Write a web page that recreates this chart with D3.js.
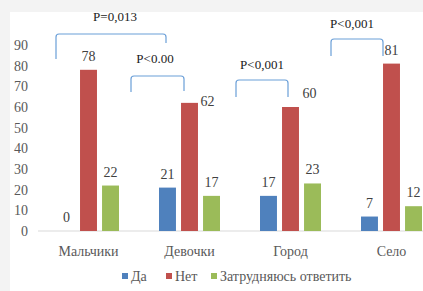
<!DOCTYPE html>
<html>
<head>
<meta charset="utf-8">
<script src="https://cdn.jsdelivr.net/npm/d3@7"></script>
<style>
  body { margin: 0; background: #f3f3f3; }
  svg { display: block; }
</style>
</head>
<body>
<svg id="chart" width="423" height="291"></svg>
<script>
// chart data
var categories = ["Мальчики", "Девочки", "Город", "Село"];
var seriesNames = ["Да", "Нет", "Затрудняюсь ответить"];
var seriesColors = ["#4f81bd", "#c0504d", "#9bbb59"];
var da = [0, 21, 17, 7];
var net = [78, 62, 60, 81];
var zatr = [22, 17, 23, 12];
var yTicks = [0, 10, 20, 30, 40, 50, 60, 70, 80, 90];
var pLabels = ["P=0,013", "P<0.00", "P<0,001", "P<0,001"];

var font = "'Liberation Serif'";
var svg = d3.select("#chart");

// white chart area (the picture is a bit cropped on left/top)
svg.append("rect")
  .attr("x", 10).attr("y", 12)
  .attr("width", 413).attr("height", 279)
  .attr("fill", "#fff");

var x = d3.scaleBand().domain(categories).range([38, 442]);
var xs = d3.scaleBand().domain(seriesNames).range([20, 81]).paddingInner(0.23);
var y = d3.scaleLinear().domain([0, 90]).range([231, 45]);

// y axis labels
var yAxis = svg.append("g")
  .attr("transform", "translate(28,0)")
  .call(d3.axisLeft(y).tickValues(yTicks).tickSize(0).tickPadding(0));
yAxis.select(".domain").remove();
yAxis.selectAll("text")
  .style("font-family", font)
  .style("font-size", "14px")
  .attr("fill", "#595959");

// baseline
svg.append("line")
  .attr("x1", 38).attr("x2", 423)
  .attr("y1", y(0)).attr("y2", y(0))
  .attr("stroke", "#d9d9d9").attr("stroke-width", 1);

// category labels
var xAxis = svg.append("g")
  .attr("transform", "translate(0," + y(0) + ")")
  .call(d3.axisBottom(x).tickSize(0).tickPadding(15));
xAxis.select(".domain").remove();
xAxis.selectAll("text")
  .style("font-family", font)
  .style("font-size", "14px")
  .attr("fill", "#595959");

var series = [da, net, zatr];
var rows = [];
series.forEach(function (vals, s) {
  vals.forEach(function (v, i) {
    rows.push({ cat: categories[i], s: s, name: seriesNames[s], v: v });
  });
});

// bars
svg.selectAll("rect.bar")
  .data(rows)
  .enter()
  .append("rect")
  .attr("class", "bar")
  .attr("x", function (d) { return x(d.cat) + xs(d.name); })
  .attr("y", function (d) { return y(d.v); })
  .attr("width", xs.bandwidth())
  .attr("height", function (d) { return y(0) - y(d.v); })
  .attr("fill", function (d) { return seriesColors[d.s]; });

// value labels (a few were moved by hand in the original)
var moved = { "Девочки-1": [18, 12], "Город-1": [19, 0] };
svg.selectAll("text.val")
  .data(rows)
  .enter()
  .append("text")
  .attr("class", "val")
  .attr("x", function (d) {
    var m = moved[d.cat + "-" + d.s];
    return x(d.cat) + xs(d.name) + xs.bandwidth() / 2 + (m ? m[0] : 0);
  })
  .attr("y", function (d) {
    var m = moved[d.cat + "-" + d.s];
    return y(d.v) - 9 + (m ? m[1] : 0);
  })
  .attr("text-anchor", "middle")
  .style("font-family", font)
  .style("font-size", "14px")
  .attr("fill", "#404040")
  .text(function (d) { return d.v; });

// significance brackets: [left x, right x, top y, left bottom, right bottom, text x, text y]
var brackets = [
  [56, 166, 34, 59, 43, 115, 21],
  [131, 184, 76, 92, 91, 155, 63],
  [236, 288, 80, 97, 97, 262, 69],
  [331, 383, 39, 56, 56, 352, 28]
];
brackets.forEach(function (b, i) {
  var r = 3;
  var p = d3.path();
  p.moveTo(b[0], b[3]);
  p.lineTo(b[0], b[2] + r);
  p.quadraticCurveTo(b[0], b[2], b[0] + r, b[2]);
  p.lineTo(b[1] - r, b[2]);
  p.quadraticCurveTo(b[1], b[2], b[1], b[2] + r);
  p.lineTo(b[1], b[4]);
  svg.append("path")
    .attr("d", p.toString())
    .attr("fill", "none")
    .attr("stroke", "#6a9fd8")
    .attr("stroke-width", 1.2);
  svg.append("text")
    .attr("x", b[5]).attr("y", b[6])
    .attr("text-anchor", "middle")
    .style("font-family", font)
    .style("font-size", "13px")
    .attr("fill", "#1a1a1a")
    .text(pLabels[i]);
});

// legend
var legendX = [122, 166, 211];
var legend = svg.selectAll("g.leg")
  .data(seriesNames)
  .enter()
  .append("g")
  .attr("class", "leg")
  .attr("transform", function (d, i) { return "translate(" + legendX[i] + ",272)"; });
legend.append("rect")
  .attr("width", 6).attr("height", 6)
  .attr("y", 1)
  .attr("fill", function (d, i) { return seriesColors[i]; });
legend.append("text")
  .attr("x", 9).attr("y", 9)
  .style("font-family", font)
  .style("font-size", "14px")
  .attr("fill", "#595959")
  .text(function (d) { return d; });
</script>
</body>
</html>
